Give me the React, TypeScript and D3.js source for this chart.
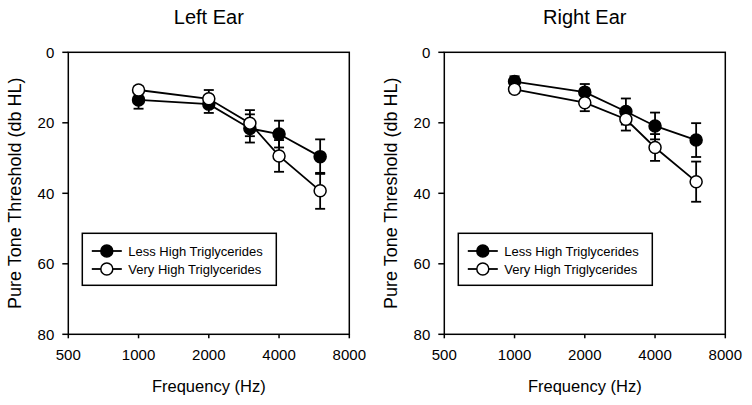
import React from "react";
import * as d3 from "d3";

const frequencies = [1000, 2000, 3000, 4000, 6000];
const xTicks = [500, 1000, 2000, 4000, 8000];
const yTicks = [0, 20, 40, 60, 80];

const leftLess = [13.5, 14.7, 21.6, 23.2, 29.6];
const leftLessErr = [2.5, 2.5, 4.0, 3.8, 4.9];
const leftVery = [10.7, 13.2, 20.1, 29.4, 39.3];
const leftVeryErr = [1.0, 2.5, 3.7, 4.5, 5.1];

const rightLess = [8.3, 11.3, 16.8, 20.9, 24.9];
const rightLessErr = [1.5, 2.3, 3.7, 3.8, 4.8];
const rightVery = [10.5, 14.3, 19.0, 27.0, 36.7];
const rightVeryErr = [1.0, 2.4, 3.2, 3.8, 5.7];

const seriesNames = ["Less High Triglycerides", "Very High Triglycerides"];
const panelTitles = ["Left Ear", "Right Ear"];

const FONT = "'Liberation Sans', Arial, sans-serif";

type Series = { values: number[]; errs: number[]; filled: boolean };

function Panel({ left, title, series }: { left: number; title: string; series: Series[] }) {
  const x0 = left, x1 = left + 281;
  const y0 = 52.3, y1 = 334.3;
  const x = d3.scaleLog().domain([500, 8000]).range([x0, x1]);
  const y = d3.scaleLinear().domain([0, 80]).range([y0, y1]);
  const line = d3.line<number>().x((_, i) => x(frequencies[i])).y((v) => y(v));
  const cx = (x0 + x1) / 2;
  const lgX = x0 + 14, lgY = 233.3, lgW = 194, lgH = 52;
  return (
    <g>
      <text x={cx} y={24} textAnchor="middle" fontSize={20} fontFamily={FONT}>{title}</text>
      <rect x={x0} y={y0} width={x1 - x0} height={y1 - y0} fill="none" stroke="#000" strokeWidth={1.5} />
      {yTicks.map((t) => (
        <g key={"y" + t}>
          <line x1={x0 - 6} x2={x0} y1={y(t)} y2={y(t)} stroke="#000" strokeWidth={1.5} />
          <text x={x0 - 14} y={y(t)} dy="0.35em" textAnchor="end" fontSize={15} fontFamily={FONT}>{t}</text>
        </g>
      ))}
      {xTicks.map((t) => (
        <g key={"x" + t}>
          <line x1={x(t)} x2={x(t)} y1={y1} y2={y1 + 4} stroke="#000" strokeWidth={1.5} />
          <text x={x(t)} y={360} textAnchor="middle" fontSize={15} fontFamily={FONT}>{t}</text>
        </g>
      ))}
      <text x={cx} y={391.5} textAnchor="middle" fontSize={16.5} fontFamily={FONT}>Frequency (Hz)</text>
      <text transform={`translate(${left - 47.5},${(y0 + y1) / 2}) rotate(-90)`} textAnchor="middle" fontSize={18} fontFamily={FONT}>Pure Tone Threshold (db HL)</text>
      {series.map((s, si) => (
        <g key={"e" + si}>
          {s.values.map((v, i) => {
            const px = x(frequencies[i]);
            return (
              <g key={i}>
                <line x1={px} x2={px} y1={y(v - s.errs[i])} y2={y(v + s.errs[i])} stroke="#000" strokeWidth={1.8} />
                <line x1={px - 5} x2={px + 5} y1={y(v - s.errs[i])} y2={y(v - s.errs[i])} stroke="#000" strokeWidth={1.8} />
                <line x1={px - 5} x2={px + 5} y1={y(v + s.errs[i])} y2={y(v + s.errs[i])} stroke="#000" strokeWidth={1.8} />
              </g>
            );
          })}
        </g>
      ))}
      {series.map((s, si) => (
        <path key={"l" + si} d={line(s.values) || ""} fill="none" stroke="#000" strokeWidth={1.8} />
      ))}
      {series.map((s, si) => (
        <g key={"m" + si}>
          {s.values.map((v, i) => (
            <circle key={i} cx={x(frequencies[i])} cy={y(v)} r={6} fill={s.filled ? "#000" : "#fff"} stroke="#000" strokeWidth={1.5} />
          ))}
        </g>
      ))}
      <rect x={lgX} y={lgY} width={lgW} height={lgH} fill="#fff" stroke="#000" strokeWidth={1.5} />
      {series.map((s, si) => {
        const ry = 251 + si * 18;
        return (
          <g key={"lg" + si}>
            <line x1={x0 + 23.5} x2={x0 + 53.5} y1={ry} y2={ry} stroke="#000" strokeWidth={1.8} />
            <circle cx={x0 + 38.5} cy={ry} r={6} fill={s.filled ? "#000" : "#fff"} stroke="#000" strokeWidth={1.5} />
            <text x={x0 + 60} y={ry} dy="0.35em" fontSize={13} fontFamily={FONT}>{seriesNames[si]}</text>
          </g>
        );
      })}
    </g>
  );
}

export default function App() {
  return (
    <svg width={752} height={405} style={{ position: "absolute", left: 0, top: 0, background: "#fff" }}>
      <rect width={752} height={405} fill="#fff" />
      <Panel
        left={68.3}
        title={panelTitles[0]}
        series={[
          { values: leftLess, errs: leftLessErr, filled: true },
          { values: leftVery, errs: leftVeryErr, filled: false },
        ]}
      />
      <Panel
        left={444.3}
        title={panelTitles[1]}
        series={[
          { values: rightLess, errs: rightLessErr, filled: true },
          { values: rightVery, errs: rightVeryErr, filled: false },
        ]}
      />
    </svg>
  );
}
